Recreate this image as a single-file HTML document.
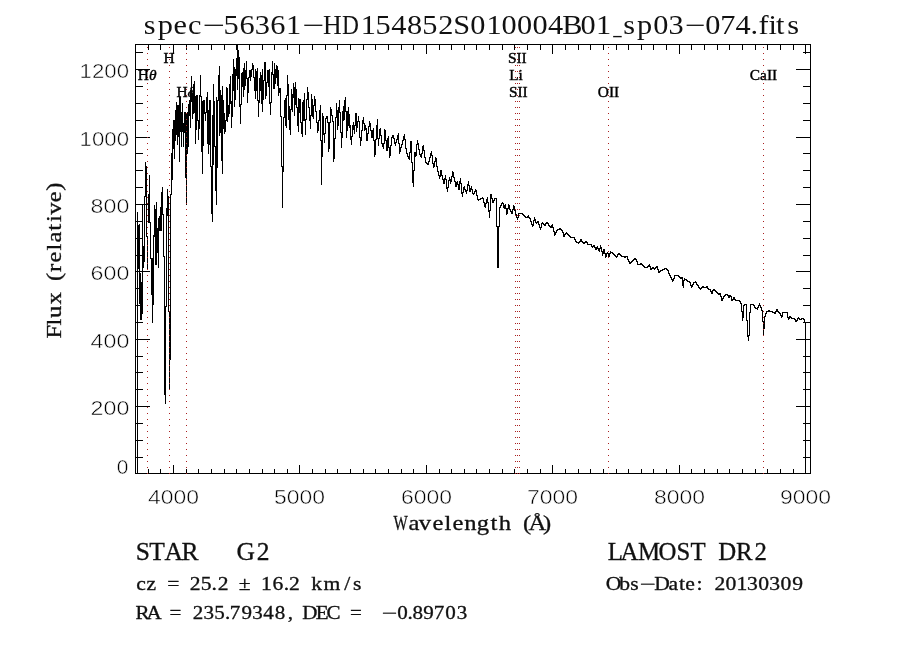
<!DOCTYPE html><html><head><meta charset="utf-8"><title>spec</title>
<style>html,body{margin:0;padding:0;background:#fff}svg{display:block;will-change:transform}.ser{font-family:"Liberation Serif","DejaVu Serif",serif}.san{font-family:"Liberation Sans","DejaVu Sans",sans-serif}</style></head><body>
<svg width="900" height="650" viewBox="0 0 900 650">
<rect width="900" height="650" fill="#fff"/>
<g stroke="#000" stroke-width="1" fill="none" shape-rendering="crispEdges">
<rect x="135.5" y="44.5" width="675.0" height="429.0"/>
<path d="M148.5 473.5v-4.5M148.5 44.5v5.5M160.5 473.5v-4.5M160.5 44.5v5.5M173.5 473.5v-8.5M173.5 44.5v9.5M186.5 473.5v-4.5M186.5 44.5v5.5M198.5 473.5v-4.5M198.5 44.5v5.5M211.5 473.5v-4.5M211.5 44.5v5.5M224.5 473.5v-4.5M224.5 44.5v5.5M236.5 473.5v-4.5M236.5 44.5v5.5M249.5 473.5v-4.5M249.5 44.5v5.5M262.5 473.5v-4.5M262.5 44.5v5.5M274.5 473.5v-4.5M274.5 44.5v5.5M287.5 473.5v-4.5M287.5 44.5v5.5M299.5 473.5v-8.5M299.5 44.5v9.5M312.5 473.5v-4.5M312.5 44.5v5.5M325.5 473.5v-4.5M325.5 44.5v5.5M337.5 473.5v-4.5M337.5 44.5v5.5M350.5 473.5v-4.5M350.5 44.5v5.5M363.5 473.5v-4.5M363.5 44.5v5.5M375.5 473.5v-4.5M375.5 44.5v5.5M388.5 473.5v-4.5M388.5 44.5v5.5M401.5 473.5v-4.5M401.5 44.5v5.5M413.5 473.5v-4.5M413.5 44.5v5.5M426.5 473.5v-8.5M426.5 44.5v9.5M439.5 473.5v-4.5M439.5 44.5v5.5M451.5 473.5v-4.5M451.5 44.5v5.5M464.5 473.5v-4.5M464.5 44.5v5.5M476.5 473.5v-4.5M476.5 44.5v5.5M489.5 473.5v-4.5M489.5 44.5v5.5M502.5 473.5v-4.5M502.5 44.5v5.5M514.5 473.5v-4.5M514.5 44.5v5.5M527.5 473.5v-4.5M527.5 44.5v5.5M540.5 473.5v-4.5M540.5 44.5v5.5M552.5 473.5v-8.5M552.5 44.5v9.5M565.5 473.5v-4.5M565.5 44.5v5.5M578.5 473.5v-4.5M578.5 44.5v5.5M590.5 473.5v-4.5M590.5 44.5v5.5M603.5 473.5v-4.5M603.5 44.5v5.5M616.5 473.5v-4.5M616.5 44.5v5.5M628.5 473.5v-4.5M628.5 44.5v5.5M641.5 473.5v-4.5M641.5 44.5v5.5M653.5 473.5v-4.5M653.5 44.5v5.5M666.5 473.5v-4.5M666.5 44.5v5.5M679.5 473.5v-8.5M679.5 44.5v9.5M691.5 473.5v-4.5M691.5 44.5v5.5M704.5 473.5v-4.5M704.5 44.5v5.5M717.5 473.5v-4.5M717.5 44.5v5.5M729.5 473.5v-4.5M729.5 44.5v5.5M742.5 473.5v-4.5M742.5 44.5v5.5M755.5 473.5v-4.5M755.5 44.5v5.5M767.5 473.5v-4.5M767.5 44.5v5.5M780.5 473.5v-4.5M780.5 44.5v5.5M793.5 473.5v-4.5M793.5 44.5v5.5M805.5 473.5v-8.5M805.5 44.5v9.5M135.5 473.5h14.5M810.5 473.5h-14.5M135.5 457.5h7.5M810.5 457.5h-7.5M135.5 440.5h7.5M810.5 440.5h-7.5M135.5 423.5h7.5M810.5 423.5h-7.5M135.5 406.5h14.5M810.5 406.5h-14.5M135.5 389.5h7.5M810.5 389.5h-7.5M135.5 372.5h7.5M810.5 372.5h-7.5M135.5 356.5h7.5M810.5 356.5h-7.5M135.5 339.5h14.5M810.5 339.5h-14.5M135.5 322.5h7.5M810.5 322.5h-7.5M135.5 305.5h7.5M810.5 305.5h-7.5M135.5 288.5h7.5M810.5 288.5h-7.5M135.5 271.5h14.5M810.5 271.5h-14.5M135.5 255.5h7.5M810.5 255.5h-7.5M135.5 238.5h7.5M810.5 238.5h-7.5M135.5 221.5h7.5M810.5 221.5h-7.5M135.5 204.5h14.5M810.5 204.5h-14.5M135.5 187.5h7.5M810.5 187.5h-7.5M135.5 170.5h7.5M810.5 170.5h-7.5M135.5 153.5h7.5M810.5 153.5h-7.5M135.5 137.5h14.5M810.5 137.5h-14.5M135.5 120.5h7.5M810.5 120.5h-7.5M135.5 103.5h7.5M810.5 103.5h-7.5M135.5 86.5h7.5M810.5 86.5h-7.5M135.5 69.5h14.5M810.5 69.5h-14.5M135.5 52.5h7.5M810.5 52.5h-7.5"/>
</g>
<path d="M137.5 212V474M138.5 225V269M139.5 224V304M140.5 273V320M141.5 282V320M142.5 204V314M143.5 246V268M144.5 196V262M145.5 162V197M146.5 166V237M147.5 236V269M148.5 194V223M149.5 175V223M150.5 222V259M151.5 258V295M152.5 258V323M153.5 235V305M154.5 205V237M155.5 209V265M156.5 202V265M157.5 228V253M158.5 218V268M159.5 216V231M160.5 207V231M161.5 192V231M162.5 187V215M163.5 214V257M164.5 256V395M165.5 306V404M166.5 208V307M167.5 189V216M168.5 196V312M169.5 311V389M170.5 194V360M171.5 153V195M172.5 129V180M173.5 120V149M174.5 120V159M175.5 110V141M176.5 102V135M177.5 105V145M178.5 105V137M179.5 97V162M180.5 97V132M181.5 112V147M182.5 103V132M183.5 123V147M184.5 112V133M185.5 112V178M186.5 113V205M187.5 112V154M188.5 104V147M189.5 100V116M190.5 90V128M191.5 76V102M192.5 93V119M193.5 84V114M194.5 81V113M195.5 96V144M196.5 95V130M197.5 95V121M198.5 120V140M199.5 95V129M200.5 75V97M201.5 96V152M202.5 101V174M203.5 100V146M204.5 100V114M205.5 112V121M206.5 97V113M207.5 92V144M208.5 110V154M209.5 100V145M210.5 100V167M211.5 166V214M212.5 115V222M213.5 84V165M214.5 101V147M215.5 146V191M216.5 97V205M217.5 100V168M218.5 75V101M219.5 66V136M220.5 90V133M221.5 95V161M222.5 86V174M223.5 100V129M224.5 113V134M225.5 120V132M226.5 87V121M227.5 88V122M228.5 105V117M229.5 84V114M230.5 76V104M231.5 101V128M232.5 74V117M233.5 59V91M234.5 67V107M235.5 69V100M236.5 58V76M237.5 45V90M238.5 50V79M239.5 57V107M240.5 104V124M241.5 73V105M242.5 72V87M243.5 68V97M244.5 63V90M245.5 70V86M246.5 61V79M247.5 78V103M248.5 77V93M249.5 70V78M250.5 70V81M251.5 69V77M252.5 63V70M253.5 65V78M254.5 77V91M255.5 69V99M256.5 71V91M257.5 68V101M258.5 100V117M259.5 78V103M260.5 72V91M261.5 75V104M262.5 69V112M263.5 80V100M264.5 62V81M265.5 62V99M266.5 82V96M267.5 70V83M268.5 70V87M269.5 69V104M270.5 102V115M271.5 72V103M272.5 61V75M273.5 74V89M274.5 63V89M275.5 69V84M276.5 65V78M277.5 66V86M278.5 70V96M279.5 88V93M280.5 88V117M281.5 116V167M282.5 166V208M283.5 117V172M284.5 100V118M285.5 98V126M286.5 95V128M287.5 75V96M288.5 84V120M289.5 106V130M290.5 109V135M291.5 89V110M292.5 94V112M293.5 83V98M294.5 87V116M295.5 82V105M296.5 89V108M297.5 107V126M298.5 98V132M299.5 99V113M300.5 99V123M301.5 122V134M302.5 102V137M303.5 100V121M304.5 93V121M305.5 119V135M306.5 99V120M307.5 87V100M308.5 92V108M309.5 107V121M310.5 115V129M311.5 94V116M312.5 99V117M313.5 105V119M314.5 96V106M315.5 99V112M316.5 111V123M317.5 122V133M318.5 120V131M319.5 110V121M320.5 105V141M321.5 140V185M322.5 113V157M323.5 116V135M324.5 133V143M325.5 118V134M326.5 116V119M327.5 116V123M328.5 122V152M329.5 122V149M330.5 107V123M331.5 109V116M332.5 115V122M333.5 121V162M334.5 138V159M335.5 117V139M336.5 103V118M337.5 110V130M338.5 107V126M339.5 100V113M340.5 112V133M341.5 132V148M342.5 111V138M343.5 106V121M344.5 100V120M345.5 97V112M346.5 111V138M347.5 111V131M348.5 107V126M349.5 114V128M350.5 125V140M351.5 136V145M352.5 125V137M353.5 122V130M354.5 125V134M355.5 113V126M356.5 113V132M357.5 121V128M358.5 116V122M359.5 121V138M360.5 137V146M361.5 130V141M362.5 120V131M363.5 117V124M364.5 123V131M365.5 125V130M366.5 128V141M367.5 133V141M368.5 126V134M369.5 121V127M370.5 123V131M371.5 130V138M372.5 130V138M373.5 128V141M374.5 140V157M375.5 139V155M376.5 125V140M377.5 119V139M378.5 138V146M379.5 129V139M380.5 128V136M381.5 135V144M382.5 143V147M383.5 143V149M384.5 129V144M385.5 130V141M386.5 140V151M387.5 138V151M388.5 136V148M389.5 147V158M390.5 145V156M391.5 137V146M392.5 135V138M393.5 135V139M394.5 138V144M395.5 142V146M396.5 139V143M397.5 135V140M398.5 133V144M399.5 143V154M400.5 147V152M401.5 144V148M402.5 140V145M403.5 136V141M404.5 134V140M405.5 139V149M406.5 148V154M407.5 153V157M408.5 156V159M409.5 152V160M410.5 141V153M411.5 141V163M412.5 162V183M413.5 170V187M414.5 152V171M415.5 152V157M416.5 144V156M417.5 140V145M418.5 143V150M419.5 149V155M420.5 154V157M421.5 153V158M422.5 146V154M423.5 145V151M424.5 150V158M425.5 157V163M426.5 162V164M427.5 163V165M428.5 161V165M429.5 157V162M430.5 153V158M431.5 151V156M432.5 155V164M433.5 163V168M434.5 161V167M435.5 157V162M436.5 158V167M437.5 166V172M438.5 171V176M439.5 175V179M440.5 170V177M441.5 170V176M442.5 175V180M443.5 179V184M444.5 178V184M445.5 175V180M446.5 179V189M447.5 187V192M448.5 180V188M449.5 177V181M450.5 179V184M451.5 176V182M452.5 171V177M453.5 172V178M454.5 177V182M455.5 181V187M456.5 182V187M457.5 181V185M458.5 184V190M459.5 181V190M460.5 178V184M461.5 183V194M462.5 192V197M463.5 187V193M464.5 186V190M465.5 189V192M466.5 190V194M467.5 184V191M468.5 181V186M469.5 185V192M470.5 188V192M471.5 186V190M472.5 189V194M473.5 193V195M474.5 191V194M475.5 189V192M476.5 190V196M477.5 195V200M478.5 199V201M479.5 199V200M480.5 198V200M481.5 198V199M482.5 197V199M483.5 198V203M484.5 202V207M485.5 203V208M486.5 199V204M487.5 197V203M488.5 202V212M489.5 210V218M490.5 194V211M491.5 194V199M492.5 198V203M493.5 200V203M494.5 198V201M495.5 198V199M496.5 198V227M497.5 226V268M498.5 226V268M499.5 207V227M500.5 205V208M501.5 203V206M502.5 202V204M503.5 203V208M504.5 205V209M505.5 204V209M506.5 208V215M507.5 208V214M508.5 204V209M509.5 205V210M510.5 209V212M511.5 211V214M512.5 209V214M513.5 205V210M514.5 206V211M515.5 210V215M516.5 214V218M517.5 217V220M518.5 213V218M519.5 213V214M520.5 213V214M521.5 213V214M522.5 213V215M523.5 214V216M524.5 215V217M525.5 216V218M526.5 217V218M527.5 216V218M528.5 215V218M529.5 217V219M530.5 218V222M531.5 221V225M532.5 224V227M533.5 220V226M534.5 217V221M535.5 219V223M536.5 222V224M537.5 221V223M538.5 221V225M539.5 224V228M540.5 227V230M541.5 223V228M542.5 222V224M543.5 223V225M544.5 224V226M545.5 223V226M546.5 222V224M547.5 222V224M548.5 223V226M549.5 225V227M550.5 226V228M551.5 225V228M552.5 224V228M553.5 227V232M554.5 231V236M555.5 232V235M556.5 230V233M557.5 229V231M558.5 229V230M559.5 228V230M560.5 228V230M561.5 229V231M562.5 230V233M563.5 232V237M564.5 234V237M565.5 233V235M566.5 232V234M567.5 233V235M568.5 234V236M569.5 235V237M570.5 236V238M571.5 237V238M572.5 237V238M573.5 237V238M574.5 237V240M575.5 239V242M576.5 241V243M577.5 242V243M578.5 242V244M579.5 241V243M580.5 239V242M581.5 239V242M582.5 241V243M583.5 242V244M584.5 242V244M585.5 241V243M586.5 241V243M587.5 242V245M588.5 244V245M589.5 244V245M590.5 244V245M591.5 244V247M592.5 246V248M593.5 245V247M594.5 245V248M595.5 247V250M596.5 247V250M597.5 246V249M598.5 248V251M599.5 248V252M600.5 245V249M601.5 247V252M602.5 251V256M603.5 249V254M604.5 249V254M605.5 253V258M606.5 253V257M607.5 252V254M608.5 253V257M609.5 253V257M610.5 251V254M611.5 252V253M612.5 252V254M613.5 253V255M614.5 254V256M615.5 255V257M616.5 256V258M617.5 254V257M618.5 253V255M619.5 253V255M620.5 254V256M621.5 255V257M622.5 256V257M623.5 256V257M624.5 256V258M625.5 256V258M626.5 256V257M627.5 256V260M628.5 259V262M629.5 261V264M630.5 262V264M631.5 261V263M632.5 260V262M633.5 259V261M634.5 258V260M635.5 258V260M636.5 259V262M637.5 261V265M638.5 264V265M639.5 264V265M640.5 263V265M641.5 263V265M642.5 264V266M643.5 265V267M644.5 266V268M645.5 267V268M646.5 267V268M647.5 266V268M648.5 265V267M649.5 264V267M650.5 266V270M651.5 268V270M652.5 267V269M653.5 267V269M654.5 268V270M655.5 267V269M656.5 266V268M657.5 266V270M658.5 269V273M659.5 271V273M660.5 270V272M661.5 270V271M662.5 269V271M663.5 269V270M664.5 268V270M665.5 268V269M666.5 268V270M667.5 269V271M668.5 270V274M669.5 273V276M670.5 275V278M671.5 277V280M672.5 279V282M673.5 278V281M674.5 275V279M675.5 275V276M676.5 275V276M677.5 275V276M678.5 275V277M679.5 276V278M680.5 277V279M681.5 277V279M682.5 277V286M683.5 280V288M684.5 278V281M685.5 279V280M686.5 279V281M687.5 280V282M688.5 281V282M689.5 281V283M690.5 282V286M691.5 285V288M692.5 284V287M693.5 282V285M694.5 282V283M695.5 281V283M696.5 282V285M697.5 284V286M698.5 285V288M699.5 287V289M700.5 288V290M701.5 287V289M702.5 286V288M703.5 286V288M704.5 287V288M705.5 287V288M706.5 286V288M707.5 286V289M708.5 288V290M709.5 289V290M710.5 289V292M711.5 291V294M712.5 290V294M713.5 289V291M714.5 289V291M715.5 290V292M716.5 291V293M717.5 292V294M718.5 293V295M719.5 293V295M720.5 293V297M721.5 296V301M722.5 298V301M723.5 296V299M724.5 295V297M725.5 294V296M726.5 294V295M727.5 294V296M728.5 295V298M729.5 295V298M730.5 295V297M731.5 296V301M732.5 299V301M733.5 297V300M734.5 297V300M735.5 299V301M736.5 300V301M737.5 300V301M738.5 300V301M739.5 300V302M740.5 301V304M741.5 303V312M742.5 311V321M743.5 305V318M744.5 304V306M745.5 304V305M746.5 304V321M747.5 320V337M748.5 335V341M749.5 312V336M750.5 304V313M751.5 304V305M752.5 304V305M753.5 304V306M754.5 305V308M755.5 307V309M756.5 308V309M757.5 307V310M758.5 305V308M759.5 303V306M760.5 305V308M761.5 307V311M762.5 310V322M763.5 321V336M764.5 316V329M765.5 313V317M766.5 311V314M767.5 311V312M768.5 310V312M769.5 310V312M770.5 311V312M771.5 311V312M772.5 311V313M773.5 312V313M774.5 312V314M775.5 311V314M776.5 309V312M777.5 309V312M778.5 311V313M779.5 312V314M780.5 313V316M781.5 315V318M782.5 312V317M783.5 312V313M784.5 312V313M785.5 312V313M786.5 312V313M787.5 312V318M788.5 317V320M789.5 316V319M790.5 316V318M791.5 317V319M792.5 318V319M793.5 318V319M794.5 318V320M795.5 319V322M796.5 320V322M797.5 318V321M798.5 317V319M799.5 318V320M800.5 319V320M801.5 318V320M802.5 318V319M803.5 318V320M804.5 319V323M805.5 322V474" stroke="#000" stroke-width="1" fill="none" shape-rendering="crispEdges"/>
<g stroke="#aa2020" stroke-width="1" stroke-dasharray="1 5" shape-rendering="crispEdges">
<line x1="147.5" y1="47" x2="147.5" y2="474"/>
<line x1="169.5" y1="47" x2="169.5" y2="474"/>
<line x1="186.5" y1="47" x2="186.5" y2="474"/>
<line x1="515.5" y1="47" x2="515.5" y2="474"/>
<line x1="517.5" y1="47" x2="517.5" y2="474"/>
<line x1="519.5" y1="47" x2="519.5" y2="474"/>
<line x1="608.5" y1="47" x2="608.5" y2="474"/>
<line x1="763.5" y1="47" x2="763.5" y2="474"/>
</g>
<g class="san" font-size="20.2" fill="#000" stroke="#fff" stroke-width="0.5">
<text x="148.0" y="504.3" textLength="51" lengthAdjust="spacingAndGlyphs">4000</text>
<text x="274.0" y="504.3" textLength="51" lengthAdjust="spacingAndGlyphs">5000</text>
<text x="401.0" y="504.3" textLength="51" lengthAdjust="spacingAndGlyphs">6000</text>
<text x="527.0" y="504.3" textLength="51" lengthAdjust="spacingAndGlyphs">7000</text>
<text x="654.0" y="504.3" textLength="51" lengthAdjust="spacingAndGlyphs">8000</text>
<text x="780.0" y="504.3" textLength="51" lengthAdjust="spacingAndGlyphs">9000</text>
<text x="90.6" y="415.0" textLength="38.7" lengthAdjust="spacingAndGlyphs">200</text>
<text x="90.6" y="347.6" textLength="38.7" lengthAdjust="spacingAndGlyphs">400</text>
<text x="90.6" y="280.3" textLength="38.7" lengthAdjust="spacingAndGlyphs">600</text>
<text x="90.6" y="212.9" textLength="38.7" lengthAdjust="spacingAndGlyphs">800</text>
<text x="79.6" y="145.5" textLength="49.4" lengthAdjust="spacingAndGlyphs">1000</text>
<text x="79.6" y="78.1" textLength="49.4" lengthAdjust="spacingAndGlyphs">1200</text>
<text x="116.8" y="473.6" textLength="11.6" lengthAdjust="spacingAndGlyphs">0</text>
</g>
<g class="ser" fill="#111">
<text class="ser" transform="scale(1.1400 1)" x="126.12 138.44 152.28 164.88 177.39 196.08 210.02 223.5 237.03 250.83 264.88 283.29 299.93 316.36 329.32 343.17 357.12 370.47 384.42 397.63 412.52 426.66 439.84 453.44 467.21 480.62 493.24 509.31 522.89 538.01 546.65 558.87 573.09 586.35 600.41 618.66 631.76 645.27 658.39 665.29 674.09 680.68 690.64" y="33.8" font-size="26.6" xml:space="preserve">spec<tspan textLength="19.67" lengthAdjust="spacingAndGlyphs">−</tspan>56361<tspan textLength="19.24" lengthAdjust="spacingAndGlyphs">−</tspan><tspan textLength="16.41" lengthAdjust="spacingAndGlyphs">H</tspan><tspan textLength="14.84" lengthAdjust="spacingAndGlyphs">D</tspan>154852S010004B01<tspan textLength="7.32" lengthAdjust="spacingAndGlyphs">_</tspan>sp03<tspan textLength="18.18" lengthAdjust="spacingAndGlyphs">−</tspan>074.fits</text>
<text transform="scale(1.2000 1)" x="327.82 340.44 349.04 360.41 370.49 377.07 386.88 397.34 408.78 415.74 425.99 435.84 440.49 452.54" y="530" font-size="20.5" stroke="#111" stroke-width="0.3" xml:space="preserve"><tspan textLength="11.87" lengthAdjust="spacingAndGlyphs">W</tspan>avelength (Å)</text>
<text transform="translate(61.3 340) rotate(-90) scale(1.2000 1)" x="1.29 11.99 18.37 29.66 39.91 49.17 56.68 64.57 74.65 81.27 90.95 98.34 104.38 114.78 124.42" y="0" font-size="20.5" stroke="#111" stroke-width="0.3" xml:space="preserve">Flux (relative)</text>
<text transform="scale(1.0300 1)" x="131.83 144.93 159.7 176.24 192.79 198.99 205.19 211.39 229.61 249.23" y="560" font-size="24.8" stroke="#111" stroke-width="0.3" xml:space="preserve">STAR    G2</text>
<text transform="scale(1.2000 1)" x="113.52 122.1 130.09 139.33 149.48 158.06 167.33 176.29 181.48 190.48 198.98 208.86 217.46 227.05 236.42 240.93 249.93 259.41 269.62 286.96 294.25" y="590" font-size="18" stroke="#111" stroke-width="0.3" xml:space="preserve">cz = 25.2 ± 16.2 km/s</text>
<text transform="scale(1.1700 1)" x="115.76 125.23 138.23 144.96 155.11 164.83 173.84 183.11 192.32 196.45 206.31 215.51 224.99 234.82 245.92 250.42 258.43 269.91 279.17 291.17 299.19 309.34 313.84 326.26 339.56 348.31 352.51 361.78 370.81 380.59 390.29" y="619.3" font-size="18" stroke="#111" stroke-width="0.3" xml:space="preserve">RA = 235.79348, DEC =  <tspan textLength="13.26" lengthAdjust="spacingAndGlyphs">−</tspan>0.89703</text>
<text transform="scale(1.0000 1)" x="607.81 620.51 637.98 658.55 676.54 690.41 705.56 718.18 735.89 754.44" y="560" font-size="24.8" stroke="#111" stroke-width="0.3" xml:space="preserve">LAMOST DR2</text>
<text transform="scale(1.2000 1)" x="504.79 515.97 525.12 533.16 545.14 557.06 565.84 571.13 580.35 585.35 595.43 604.58 613.67 622.5 631.83 641.09 650.38 660.16" y="589.6" font-size="18" stroke="#111" stroke-width="0.3" xml:space="preserve">Obs<tspan textLength="13.33" lengthAdjust="spacingAndGlyphs">−</tspan>Date: 20130309</text>
</g>
<g class="ser" fill="#000" stroke="#000" stroke-width="0.4" font-size="15.4" text-anchor="middle">
<text x="147.2" y="79.9">H<tspan font-style="italic">θ</tspan></text>
<text x="169" y="62.8">H</text>
<text x="185.6" y="96.9">H<tspan font-style="italic">δ</tspan></text>
<text x="517.3" y="62.8">SII</text>
<text x="516" y="79.9">Li</text>
<text x="518.3" y="96.9">SII</text>
<text x="608.5" y="96.9">OII</text>
<text x="763.5" y="79.9">CaII</text>
</g>
</svg></body></html>
